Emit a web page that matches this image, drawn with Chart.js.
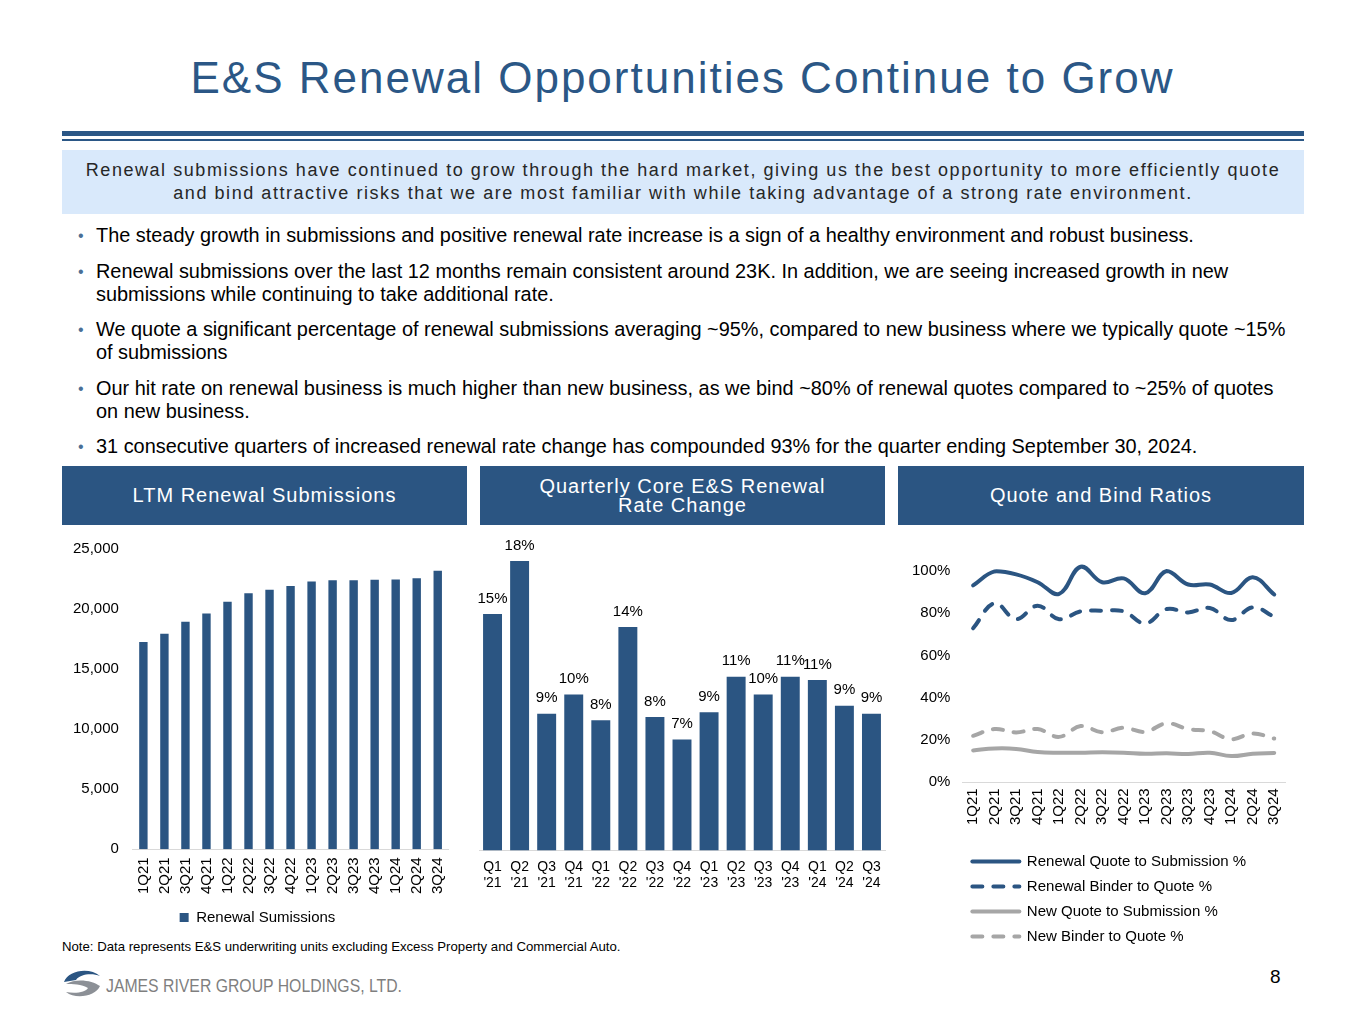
<!DOCTYPE html>
<html>
<head>
<meta charset="utf-8">
<script src="https://cdn.jsdelivr.net/npm/chart.js@4"></script>
<style>
  body { margin:0; width:1365px; height:1024px; background:#fff; position:relative; font-family:"Liberation Sans", Arial, sans-serif; overflow:hidden; }
  .abs { position:absolute; }
  #titulo { left:0; width:1365px; top:53px; text-align:center; font-size:44px; color:#2b5786; letter-spacing:2px; }
  .regla1 { left:62px; width:1242px; top:131px; height:5px; background:#2b5786; }
  .regla2 { left:62px; width:1242px; top:139px; height:2px; background:#2b5786; }
  #caja { left:62px; width:1242px; top:150px; height:64px; background:#d9e9fb; text-align:center; font-size:18px; line-height:23px; color:#262626; letter-spacing:1.55px; padding-top:9px; box-sizing:border-box; white-space:nowrap; }
  #vinetas { left:78px; top:224px; width:1260px; font-size:19.9px; color:#000; white-space:nowrap; }
  #vinetas div { position:relative; padding-left:18px; line-height:23px; margin-bottom:12.5px; }
  #vinetas div:before { content:"\2022"; position:absolute; left:0; color:#4a6f96; font-size:16px; }
  .cabecera { top:466px; height:59px; background:#2b5582; color:#fff; font-size:20px; letter-spacing:1px; display:flex; align-items:center; justify-content:center; text-align:center; line-height:19px; }
  .graf { position:absolute; }
  #nota { left:62px; top:939px; font-size:13.2px; color:#000; }
  #pagina { left:1270px; top:966px; font-size:19px; color:#000; }
  #logo { left:62px; top:968px; }
</style>
</head>
<body>
<div class="abs" id="titulo">E&amp;S Renewal Opportunities Continue to Grow</div>
<div class="abs regla1"></div>
<div class="abs regla2"></div>
<div class="abs" id="caja">Renewal submissions have continued to grow through the hard market, giving us the best opportunity to more efficiently quote<br>and bind attractive risks that we are most familiar with while taking advantage of a strong rate environment.</div>
<div class="abs" id="vinetas">
  <div>The steady growth in submissions and positive renewal rate increase is a sign of a healthy environment and robust business.</div>
  <div>Renewal submissions over the last 12 months remain consistent around 23K. In addition, we are seeing increased growth in new<br>submissions while continuing to take additional rate.</div>
  <div>We quote a significant percentage of renewal submissions averaging ~95%, compared to new business where we typically quote ~15%<br>of submissions</div>
  <div>Our hit rate on renewal business is much higher than new business, as we bind ~80% of renewal quotes compared to ~25% of quotes<br>on new business.</div>
  <div>31 consecutive quarters of increased renewal rate change has compounded 93% for the quarter ending September 30, 2024.</div>
</div>

<div class="abs cabecera" style="left:62px;width:405px;">LTM Renewal Submissions</div>
<div class="abs cabecera" style="left:480px;width:405px;">Quarterly Core E&amp;S Renewal<br>Rate Change</div>
<div class="abs cabecera" style="left:898px;width:406px;">Quote and Bind Ratios</div>

<div class="graf" style="left:59px;top:526px;width:405px;height:409px;"><canvas id="grafLTM"></canvas></div>
<div class="graf" style="left:472px;top:530px;width:420px;height:370px;"><canvas id="grafTasa"></canvas></div>
<div class="graf" style="left:900px;top:550px;width:405px;height:404px;"><canvas id="grafRatios"></canvas></div>

<div class="abs" id="nota">Note: Data represents E&amp;S underwriting units excluding Excess Property and Commercial Auto.</div>
<div class="abs" id="logo">
  <svg width="360" height="32" viewBox="0 0 360 32">
    <path d="M2 14 C6 2 28 -1 38 8 C30 5 18 6 14 12 Z" fill="#2b5582"/>
    <path d="M4 16 C14 10 30 12 38 18 C34 28 14 32 4 24 C14 26 24 24 26 20 C20 16 10 16 4 16 Z" fill="#8c9096"/>
    <text x="44" y="24" font-family="Liberation Sans, Arial" font-size="19" fill="#7f7f7f" textLength="296" lengthAdjust="spacingAndGlyphs">JAMES RIVER GROUP HOLDINGS, LTD.</text>
  </svg>
</div>
<div class="abs" id="pagina">8</div>

<script>
window.onload = function(){

    // Categorias
    let trimestres = ["1Q21","2Q21","3Q21","4Q21","1Q22","2Q22","3Q22","4Q22","1Q23","2Q23","3Q23","4Q23","1Q24","2Q24","3Q24"];
    let trimestresTasa = [["Q1","'21"],["Q2","'21"],["Q3","'21"],["Q4","'21"],["Q1","'22"],["Q2","'22"],["Q3","'22"],["Q4","'22"],["Q1","'23"],["Q2","'23"],["Q3","'23"],["Q4","'23"],["Q1","'24"],["Q2","'24"],["Q3","'24"]];

    // Series
    let sumisiones = [17250, 17940, 18940, 19640, 20610, 21310, 21610, 21920, 22300, 22390, 22390, 22440, 22470, 22560, 23190];
    let tasaRenovacion = [14.7, 18.0, 8.5, 9.7, 8.1, 13.9, 8.3, 6.9, 8.6, 10.8, 9.7, 10.8, 10.6, 9.0, 8.5];
    let renCotizSum = [93.2, 99.8, 98.4, 94.7, 89.2, 102.0, 94.7, 96.5, 89.5, 100.0, 93.6, 93.6, 89.6, 97.0, 88.9];
    let renBindCotiz = [72.9, 84.7, 77.2, 83.6, 77.2, 80.9, 81.2, 80.9, 75.2, 82.0, 80.4, 82.5, 76.8, 82.8, 78.3];
    let nueCotizSum = [15.1, 16.0, 15.8, 14.3, 14.0, 14.0, 14.2, 14.0, 13.5, 13.7, 13.4, 14.0, 12.4, 13.5, 13.9];
    let nueBindCotiz = [22.0, 25.2, 23.6, 25.2, 21.5, 26.6, 23.7, 25.8, 23.9, 27.9, 25.2, 24.2, 20.4, 23.1, 20.7];

    let azul = "#2b5582";
    let gris = "#a6a6a6";
    let fuente = "Liberation Sans";

    Chart.defaults.font.family = fuente;
    Chart.defaults.color = "#000";
    Chart.defaults.animation = false;

    // Grafica izquierda: sumisiones LTM
    new Chart(document.getElementById("grafLTM"), {
        type: 'bar',
        data: {
            labels: trimestres,
            datasets: [{ label: "Renewal Sumissions", data: sumisiones, backgroundColor: azul, barPercentage: 0.4, categoryPercentage: 1 }]
        },
        options: {
            responsive: true, maintainAspectRatio: false,
            layout: { padding: { left: 0, right: 8, top: 4 } },
            plugins: {
                legend: { position: 'bottom', labels: { boxWidth: 9, boxHeight: 9, padding: 8, font: { size: 15 }, color: "#000" } },
                tooltip: { enabled: false }
            },
            scales: {
                x: { grid: { display: false, drawTicks: false }, border: { color: "#d9d9d9" },
                     ticks: { autoSkip: false, minRotation: 90, maxRotation: 90, font: { size: 15 }, padding: 8 } },
                y: { min: 0, max: 25000, grid: { display: false, drawTicks: false }, border: { display: false },
                     ticks: { stepSize: 5000, font: { size: 15 }, padding: 14, callback: v => v.toLocaleString("en-US") } }
            }
        }
    });

    // Plugin para etiquetas de valor sobre las barras
    let etiquetasBarras = {
        id: 'etiquetasBarras',
        afterDatasetsDraw(chart) {
            let ctx = chart.ctx;
            let meta = chart.getDatasetMeta(0);
            ctx.save();
            ctx.font = "15px " + fuente;
            ctx.fillStyle = "#000";
            ctx.textAlign = "center";
            ctx.textBaseline = "bottom";
            meta.data.forEach((barra, i) => {
                ctx.fillText(Math.round(chart.data.datasets[0].data[i]) + "%", barra.x, barra.y - 8);
            });
            ctx.restore();
        }
    };

    // Grafica central: cambio de tasa
    new Chart(document.getElementById("grafTasa"), {
        type: 'bar',
        data: {
            labels: trimestresTasa,
            datasets: [{ data: tasaRenovacion, backgroundColor: azul, barPercentage: 0.7, categoryPercentage: 1 }]
        },
        options: {
            responsive: true, maintainAspectRatio: false,
            layout: { padding: { left: 7, right: 7, top: 31 } },
            plugins: { legend: { display: false }, tooltip: { enabled: false } },
            scales: {
                x: { grid: { display: false, drawTicks: false }, border: { color: "#d9d9d9" },
                     ticks: { maxRotation: 0, autoSkip: false, font: { size: 14 }, padding: 8 } },
                y: { display: false, min: 0, max: 18.0 }
            }
        },
        plugins: [etiquetasBarras]
    });

    // Leyenda con lineas discontinuas
    function etiquetasLeyenda(chart) {
        let items = Chart.defaults.plugins.legend.labels.generateLabels(chart);
        items.forEach(it => {
            let ds = chart.data.datasets[it.datasetIndex];
            it.lineDash = ds.borderDash || [];
            it.lineWidth = 4;
            it.lineCap = 'round';
            it.strokeStyle = ds.borderColor;
            it.pointStyle = 'line';
        });
        return items;
    }

    // Grafica derecha: ratios
    let estiloLinea = { borderWidth: 4, borderCapStyle: 'round' };
    new Chart(document.getElementById("grafRatios"), {
        type: 'line',
        data: {
            labels: trimestres,
            datasets: [
                Object.assign({ label: "Renewal Quote to Submission %", data: renCotizSum, borderColor: azul, backgroundColor: azul }, estiloLinea),
                Object.assign({ label: "Renewal Binder to Quote %", data: renBindCotiz, borderColor: azul, backgroundColor: azul, borderDash: [10, 11] }, estiloLinea),
                Object.assign({ label: "New Quote to Submission %", data: nueCotizSum, borderColor: gris, backgroundColor: gris }, estiloLinea),
                Object.assign({ label: "New Binder to Quote %", data: nueBindCotiz, borderColor: gris, backgroundColor: gris, borderDash: [10, 11] }, estiloLinea)
            ]
        },
        options: {
            responsive: true, maintainAspectRatio: false,
            layout: { padding: { left: 0, right: 20, top: 20 } },
            elements: { point: { radius: 0 }, line: { tension: 0.4 } },
            datasets: { line: { clip: false } },
            plugins: {
                legend: { position: 'bottom', align: 'start', fullSize: false,
                          labels: { usePointStyle: true, pointStyle: 'line', pointStyleWidth: 47, padding: 10, font: { size: 15 }, color: "#000",
                                    generateLabels: etiquetasLeyenda } },
                tooltip: { enabled: false }
            },
            scales: {
                x: { offset: true, grid: { display: false, drawTicks: false }, border: { color: "#d9d9d9" },
                     ticks: { autoSkip: false, minRotation: 90, maxRotation: 90, font: { size: 15 }, padding: 6 },
                     afterFit: escala => { escala.height += 13; } },
                y: { min: 0, max: 100, grid: { display: false, drawTicks: false }, border: { display: false },
                     ticks: { stepSize: 20, font: { size: 15 }, padding: 12, callback: v => v + "%" } }
            }
        }
    });
}
</script>
</body>
</html>
